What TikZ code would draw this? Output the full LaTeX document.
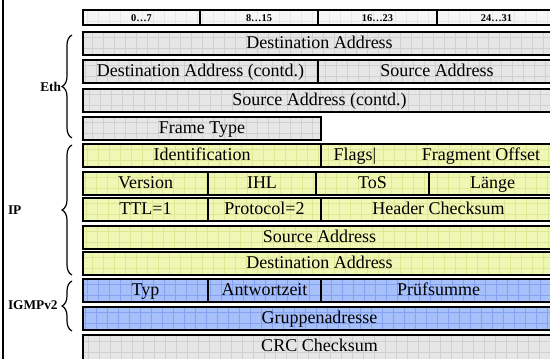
\documentclass[tikz,border=0pt]{standalone}
\usepackage{fontspec}
\setmainfont{Liberation Serif}
\usepackage{tikz}
\usetikzlibrary{positioning}
\usetikzlibrary{decorations.pathreplacing}
\definecolor{ethgray}{RGB}{230,230,230}
\definecolor{ethgrid}{RGB}{208,208,208}
\definecolor{headgray}{RGB}{246,246,246}
\definecolor{ipyellow}{RGB}{240,246,180}
\definecolor{ipgrid}{RGB}{220,232,148}
\definecolor{igmpblue}{RGB}{168,192,250}
\definecolor{igmpgrid}{RGB}{132,162,242}

\begin{document}
\begin{tikzpicture}[x=0.75pt, y=-0.75pt,
    every node/.style = {inner sep=0pt, outer sep=0pt, text height=9.5pt, text depth=3pt,
        font=\fontsize{13.5}{16}\selectfont},
    texture/.style = {path picture={\draw[#1, line width=0.6pt, step=8.25pt]
        (path picture bounding box.south west) grid (path picture bounding box.north east);}},
    field/.style = {draw, line width=1.5pt, rectangle, minimum width=#1*0.75pt, minimum height=23.5*0.75pt},
    headfield/.style = {field=#1, minimum height=15*0.75pt, fill=headgray, texture=ethgrid!50,
        text height=5.6pt, text depth=0pt, font=\bfseries\fontsize{7.8}{9}\selectfont},
    ethfield/.style = {field=#1, fill=ethgray, texture=ethgrid},
    ipfield/.style = {field=#1, fill=ipyellow, texture=ipgrid},
    igmpfield/.style = {field=#1, fill=igmpblue, texture=igmpgrid},
    layer/.style = {text height=7pt, text depth=0pt, font=\bfseries\fontsize{10}{12}\selectfont},
    bracket/.style = {decorate, decoration={brace, amplitude=7.5pt}, line width=0.9pt}
    ]
    \useasboundingbox (0,0) rectangle (550,359);
    \draw[line width=1.5pt] (3,0) -- (3,359);

    % bit positions
    \node[headfield=117, anchor=north west] (b0) at (83,10) {0…7};
    \node[headfield=118, right=0pt of b0] (b8) {8…15};
    \node[headfield=119, right=0pt of b8] (b16) {16…23};
    \node[headfield=119, right=0pt of b16] (b24) {24…31};

    % Ethernet
    \node[ethfield=473, anchor=north west] (dst) at (83,32) {Destination Address};
    \node[ethfield=235, anchor=north west] (dstc) at (83,60) {Destination Address (contd.)};
    \node[ethfield=238, right=0pt of dstc] (src) {Source Address};
    \node[ethfield=473, anchor=north west] (srcc) at (83,89) {Source Address (contd.)};
    \node[ethfield=238, anchor=north west] (ftype) at (83,117) {Frame Type};

    % IP
    \node[ipfield=238, anchor=north west] (ident) at (83,144) {Identification};
    \node[ipfield=235, right=0pt of ident] (flagsoff) {};
    \node (flags) at ([xshift=25.5pt]flagsoff.west) {Flags|};
    \node (fragoff) at ([xshift=120pt]flagsoff.west) {Fragment Offset};
    \node[ipfield=125, anchor=north west] (ver) at (83,172) {Version};
    \node[ipfield=108, right=0pt of ver] (ihl) {IHL};
    \node[ipfield=113, right=0pt of ihl] (tos) {ToS};
    \node[ipfield=127, right=0pt of tos] (len) {Länge};
    \node[ipfield=125, anchor=north west] (ttl) at (83,198) {TTL=1};
    \node[ipfield=113, right=0pt of ttl] (proto) {Protocol=2};
    \node[ipfield=235, right=0pt of proto] (hcs) {Header Checksum};
    \node[ipfield=473, anchor=north west] (ipsrc) at (83,226) {Source Address};
    \node[ipfield=473, anchor=north west] (ipdst) at (83,252) {Destination Address};

    % IGMP
    \node[igmpfield=125, anchor=north west] (typ) at (83,279) {Typ};
    \node[igmpfield=113, right=0pt of typ] (resp) {Antwortzeit};
    \node[igmpfield=235, right=0pt of resp] (csum) {Prüfsumme};
    \node[igmpfield=473, anchor=north west] (group) at (83,307) {Gruppenadresse};

    \node[ethfield=473, minimum height=27*0.75pt, anchor=north west] (crc) at (83,335) {};
    \node (crctext) at ([yshift=-8.8pt]crc.north) {CRC Checksum};

    % layers
    \draw[bracket] (72,138) -- (72,35);
    \draw[bracket] (72,275) -- (72,145);
    \draw[bracket] (72,331) -- (72,281);
    \node[layer, anchor=east] (eth) at (61,87) {Eth};
    \node[layer, anchor=west] (ip) at (8,210) {IP};
    \node[layer, anchor=west] (igmp) at (8,305) {IGMPv2};
\end{tikzpicture}
\end{document}
